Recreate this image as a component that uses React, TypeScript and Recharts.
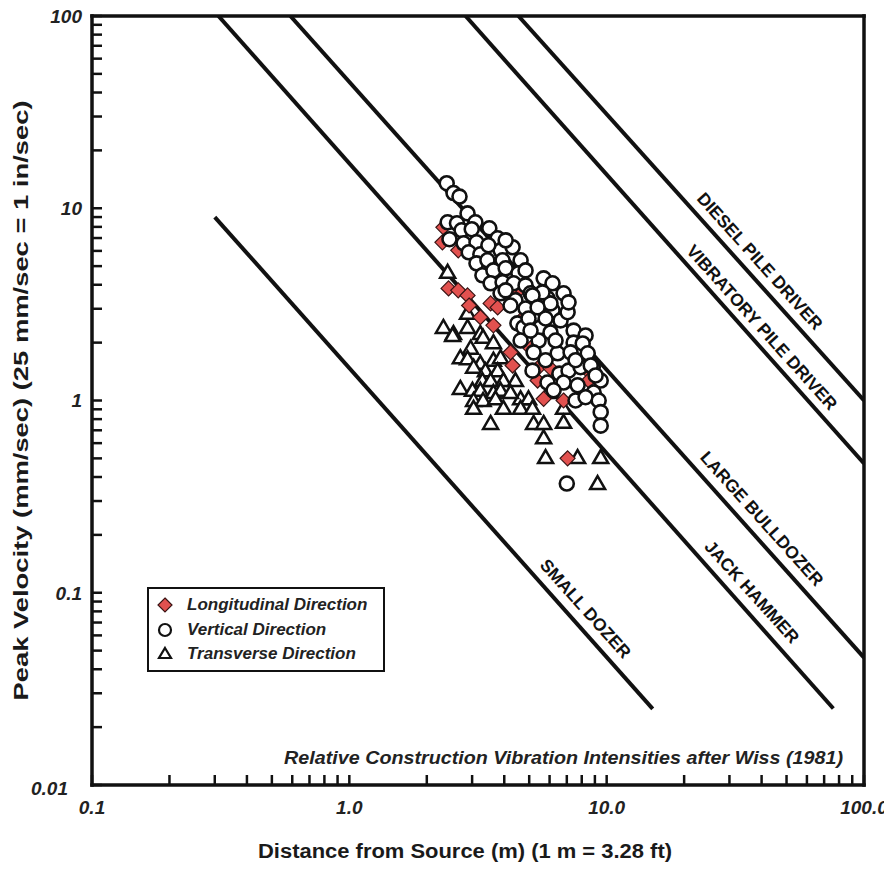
import React from 'react';
import {
  ScatterChart,
  Scatter,
  XAxis,
  YAxis,
  ReferenceLine,
  ReferenceDot,
  Legend,
} from 'recharts';

const FONT = '"Liberation Sans", Arial, Helvetica, sans-serif';
const INK = '#111';

// axis ticks (log scales, minor ticks inward on all four sides)
const X_TICKS = [
  0.1, 0.2, 0.3, 0.4, 0.5, 0.6, 0.7, 0.8, 0.9,
  1, 2, 3, 4, 5, 6, 7, 8, 9,
  10, 20, 30, 40, 50, 60, 70, 80, 90, 100,
];
const X_MAJOR = [0.1, 1, 10, 100];
const X_LABELS = ['0.1', '1.0', '10.0', '100.0'];

const Y_TICKS = [
  0.01, 0.02, 0.03, 0.04, 0.05, 0.06, 0.07, 0.08, 0.09,
  0.1, 0.2, 0.3, 0.4, 0.5, 0.6, 0.7, 0.8, 0.9,
  1, 2, 3, 4, 5, 6, 7, 8, 9,
  10, 20, 30, 40, 50, 60, 70, 80, 90, 100,
];
const Y_MAJOR = [0.01, 0.1, 1, 10, 100];
const Y_LABELS = ['0.01', '0.1', '1', '10', '100'];

// source lines after Wiss (1981): [distance m, peak velocity]
const SOURCE_NAMES = ['DIESEL PILE DRIVER', 'VIBRATORY PILE DRIVER', 'LARGE BULLDOZER', 'JACK HAMMER', 'SMALL DOZER'];
const SOURCE_START = [[4.54, 100], [2.83, 100], [0.59, 100], [0.31, 100], [0.3, 9.0]];
const SOURCE_END = [[100, 1.0], [100, 0.47], [100, 0.046], [76, 0.025], [15.1, 0.0249]];
const SOURCE_LABEL_AT = [[39.4, 5.3], [40.1, 2.4], [40.1, 0.243], [36.7, 0.101], [8.28, 0.0826]];

const CAPTION = 'Relative Construction Vibration Intensities after Wiss (1981)';
const CAPTION_AT = [82.9, 0.0129];

const SERIES_NAMES = ['Longitudinal Direction', 'Vertical Direction', 'Transverse Direction'];

const LONGITUDINAL = [
  [2.32, 7.96], [2.3, 6.65], [2.65, 6.04], [2.43, 3.83], [2.65, 3.74], [2.88, 3.52],
  [2.92, 3.12], [3.23, 2.71], [3.54, 3.2], [3.77, 3.05], [4.23, 3.65], [4.63, 3.83],
  [4.84, 2.77], [3.63, 2.46], [4.23, 1.78], [4.31, 1.52], [5.39, 1.47], [6.05, 1.47],
  [5.39, 1.27], [5.69, 1.02], [6.8, 1.0], [8.51, 1.27], [8.28, 1.47], [7.05, 0.5],
  [5.06, 1.87],
];

const VERTICAL = [
  [2.39, 13.5], [2.54, 12.0], [2.68, 11.5], [2.88, 9.4], [2.41, 8.45], [2.62, 8.35],
  [3.09, 8.45], [2.73, 7.68], [2.99, 7.78], [3.5, 7.87], [2.45, 6.9], [2.78, 6.57],
  [3.12, 6.65], [3.77, 6.98], [2.91, 5.9], [3.23, 5.76], [3.87, 6.04], [4.31, 6.27],
  [3.12, 5.17], [3.44, 5.36], [3.94, 5.36], [4.63, 5.36], [3.29, 4.48], [3.63, 4.75],
  [4.05, 4.87], [4.54, 4.59], [4.84, 4.75], [3.54, 4.07], [3.94, 4.12], [4.35, 4.07],
  [4.84, 3.97], [3.87, 3.61], [4.42, 3.32], [5.06, 3.61], [5.69, 4.32], [4.23, 3.12],
  [4.84, 3.01], [5.39, 3.32], [5.89, 3.4], [5.44, 2.71], [6.16, 2.94], [6.8, 3.61],
  [4.5, 2.52], [5.53, 2.4], [6.62, 2.61], [7.05, 2.88], [7.44, 2.31], [8.28, 2.18],
  [6.16, 4.07], [7.11, 3.24], [6.05, 3.2], [4.75, 2.4], [6.05, 2.26], [5.44, 2.05],
  [7.44, 2.0], [5.2, 1.78], [5.79, 1.62], [6.45, 1.76], [7.24, 1.78], [8.07, 1.98],
  [8.44, 1.76], [5.15, 1.43], [5.89, 1.24], [6.55, 1.38], [7.11, 1.43], [7.92, 1.49],
  [8.83, 1.49], [6.8, 1.24], [7.71, 1.2], [9.48, 1.27], [8.9, 1.1], [7.57, 1.0],
  [8.28, 1.04], [9.31, 1.0], [9.48, 0.87], [9.48, 0.74], [7.0, 0.37], [8.67, 1.52],
  [6.22, 1.13], [5.63, 3.65], [5.15, 3.52], [5.39, 3.05], [4.05, 3.74], [4.97, 2.67],
  [5.79, 2.67], [6.33, 2.05], [4.63, 2.05], [5.06, 2.31], [7.57, 1.62], [9.06, 1.35],
  [3.47, 6.42], [4.05, 6.81],
];

const TRANSVERSE = [
  [2.41, 4.64], [2.32, 2.4], [2.54, 2.23], [2.88, 2.4], [3.23, 2.23], [2.88, 2.84],
  [2.96, 1.87], [3.31, 2.13], [2.52, 2.18], [3.63, 2.0], [2.7, 1.67], [2.88, 1.65],
  [3.23, 1.56], [3.63, 1.62], [3.87, 1.67], [3.04, 1.49], [3.38, 1.43], [3.77, 1.43],
  [3.29, 1.27], [3.54, 1.27], [3.97, 1.27], [4.42, 1.27], [2.7, 1.155], [3.01, 1.13],
  [3.23, 1.13], [3.63, 1.1], [3.87, 1.13], [3.04, 1.0], [3.31, 1.0], [3.7, 1.02],
  [4.63, 1.02], [4.97, 1.02], [3.04, 0.91], [3.97, 0.91], [4.63, 0.91], [5.15, 0.91],
  [6.8, 0.91], [3.54, 0.76], [5.2, 0.76], [5.69, 0.76], [6.8, 0.77], [5.69, 0.64],
  [5.79, 0.505], [7.71, 0.505], [9.48, 0.505], [9.22, 0.37], [4.23, 1.1], [5.93, 1.1],
];

const toPoints = (rows: number[][]) => rows.map(([d, v]) => ({ d, v }));

const DiamondShape = (props: any) => {
  const { cx, cy } = props;
  const h = 7.5;
  return (
    <polygon
      points={`${cx},${cy - h} ${cx + h},${cy} ${cx},${cy + h} ${cx - h},${cy}`}
      fill="#e2514f"
      stroke="#3a1414"
      strokeWidth={1.2}
    />
  );
};

const CircleShape = (props: any) => (
  <circle cx={props.cx} cy={props.cy} r={7} fill="#fff" stroke={INK} strokeWidth={2.6} />
);

const TriangleShape = (props: any) => {
  const { cx, cy } = props;
  return (
    <polygon
      points={`${cx},${cy - 7.5} ${cx + 7.5},${cy + 5.5} ${cx - 7.5},${cy + 5.5}`}
      fill="#fff"
      stroke={INK}
      strokeWidth={2.5}
    />
  );
};

const tickFont = { fontFamily: FONT, fontSize: 19, fontWeight: 'bold', fontStyle: 'italic', fill: '#222' } as const;

const XTick = (props: any) => {
  const { x, y, payload } = props;
  const i = X_MAJOR.indexOf(payload.value);
  if (i < 0) return null;
  return (
    <text x={x} y={y} textAnchor="middle" {...tickFont}>
      {X_LABELS[i]}
    </text>
  );
};

const YTick = (props: any) => {
  const { x, y, payload } = props;
  const i = Y_MAJOR.indexOf(payload.value);
  if (i < 0) return null;
  return (
    <text x={i === 0 ? x - 14 : x} y={i === 0 ? y + 3 : y} dy="0.36em" textAnchor="end" {...tickFont}>
      {Y_LABELS[i]}
    </text>
  );
};

const XTitle = (props: any) => {
  const { viewBox } = props;
  const cx = viewBox.x + viewBox.width / 2 - 13;
  return (
    <text x={cx} y={858} textAnchor="middle" fontFamily={FONT} fontSize={20} fontWeight="bold" fill="#1a1a1a"
      textLength={414} lengthAdjust="spacingAndGlyphs">
      Distance from Source (m) (1 m = 3.28 ft)
    </text>
  );
};

const YTitle = (props: any) => {
  const { viewBox } = props;
  const cx = viewBox.x + 20;
  const cy = viewBox.y + viewBox.height / 2;
  return (
    <text x={cx} y={cy} transform={`rotate(-90 ${cx} ${cy})`} textAnchor="middle" fontFamily={FONT} fontSize={20}
      fontWeight="bold" fill="#1a1a1a" textLength={600} lengthAdjust="spacingAndGlyphs">
      Peak Velocity (mm/sec) (25 mm/sec = 1 in/sec)
    </text>
  );
};

const SlopeLabel = (props: any) => {
  const { viewBox, text } = props;
  const cx = viewBox.x + viewBox.width / 2;
  const cy = viewBox.y + viewBox.height / 2;
  return (
    <text x={cx} y={cy} transform={`rotate(48 ${cx} ${cy})`} textAnchor="middle" dominantBaseline="central"
      fontFamily={FONT} fontSize={17.5} fontWeight="bold" fill={INK}>
      {text}
    </text>
  );
};

const CaptionLabel = (props: any) => {
  const { viewBox, text } = props;
  const cx = viewBox.x + viewBox.width / 2;
  const cy = viewBox.y + viewBox.height / 2;
  return (
    <text x={cx} y={cy} textAnchor="end" fontFamily={FONT} fontSize={18.5} fontWeight="bold" fontStyle="italic"
      fill="#222" textLength={559} lengthAdjust="spacingAndGlyphs">
      {text}
    </text>
  );
};

const LEGEND_ICONS = [
  <polygon key="d" points="10,3 17,10 10,17 3,10" fill="#e2514f" stroke="#3a1414" strokeWidth={1.2} />,
  <circle key="c" cx={10} cy={10} r={6} fill="#fff" stroke={INK} strokeWidth={2.2} />,
  <polygon key="t" points="10,4 16,14 4,14" fill="#fff" stroke={INK} strokeWidth={2.2} />,
];

const LegendBox = () => (
  <div
    style={{
      position: 'relative',
      width: 238,
      height: 85,
      boxSizing: 'border-box',
      border: `2.5px solid ${INK}`,
      background: '#fff',
    }}
  >
    {SERIES_NAMES.map((name, i) => (
      <div
        key={name}
        style={{ position: 'absolute', left: 6, top: 6 + 24.5 * i, height: 20, display: 'flex', alignItems: 'center' }}
      >
        <svg width={20} height={20}>{LEGEND_ICONS[i]}</svg>
        <span
          style={{
            marginLeft: 12,
            fontFamily: FONT,
            fontSize: 17,
            fontWeight: 'bold',
            fontStyle: 'italic',
            color: '#222',
            whiteSpace: 'nowrap',
          }}
        >
          {name}
        </span>
      </div>
    ))}
  </div>
);

const axisLine = { stroke: INK, strokeWidth: 3.5, strokeLinecap: 'square' as const };
const tickLine = { stroke: INK, strokeWidth: 2.5 };

export default function App() {
  // cancel the body margin so the chart can use the full page
  return (
    <div style={{ margin: '-8px 0 0 -8px', width: 892, height: 872 }}>
      <ScatterChart width={892} height={872} margin={{ top: 15, right: 27, bottom: 47, left: 8 }}>
        <XAxis
          dataKey="d"
          type="number"
          scale="log"
          domain={[0.1, 100]}
          allowDataOverflow
          ticks={X_TICKS}
          interval={0}
          tickSize={-10}
          tickMargin={39}
          tick={<XTick />}
          tickLine={tickLine}
          axisLine={axisLine}
          height={40}
          label={<XTitle />}
        />
        <XAxis
          xAxisId="top"
          orientation="top"
          type="number"
          scale="log"
          domain={[0.1, 100]}
          allowDataOverflow
          ticks={X_TICKS}
          interval={0}
          tickSize={-10}
          tick={false}
          tickLine={tickLine}
          axisLine={axisLine}
          height={1}
        />
        <YAxis
          dataKey="v"
          type="number"
          scale="log"
          domain={[0.01, 100]}
          allowDataOverflow
          ticks={Y_TICKS}
          interval={0}
          tickSize={-10}
          tickMargin={20}
          tick={<YTick />}
          tickLine={tickLine}
          axisLine={axisLine}
          width={84}
          label={<YTitle />}
        />
        <YAxis
          yAxisId="right"
          orientation="right"
          type="number"
          scale="log"
          domain={[0.01, 100]}
          allowDataOverflow
          ticks={Y_TICKS}
          interval={0}
          tickSize={-10}
          tick={false}
          tickLine={tickLine}
          axisLine={axisLine}
          width={1}
        />

        {SOURCE_NAMES.map((name, i) => (
          <ReferenceLine
            key={name}
            segment={[
              { x: SOURCE_START[i][0], y: SOURCE_START[i][1] },
              { x: SOURCE_END[i][0], y: SOURCE_END[i][1] },
            ]}
            stroke={INK}
            strokeWidth={4}
            ifOverflow="hidden"
          />
        ))}
        {SOURCE_NAMES.map((name, i) => (
          <ReferenceDot
            key={`lbl-${name}`}
            x={SOURCE_LABEL_AT[i][0]}
            y={SOURCE_LABEL_AT[i][1]}
            r={1}
            fill="none"
            stroke="none"
            label={<SlopeLabel text={name} />}
          />
        ))}
        <ReferenceDot
          x={CAPTION_AT[0]}
          y={CAPTION_AT[1]}
          r={1}
          fill="none"
          stroke="none"
          label={<CaptionLabel text={CAPTION} />}
        />

        <Scatter name={SERIES_NAMES[2]} data={toPoints(TRANSVERSE)} shape={<TriangleShape />} isAnimationActive={false} />
        <Scatter name={SERIES_NAMES[0]} data={toPoints(LONGITUDINAL)} shape={<DiamondShape />} isAnimationActive={false} />
        <Scatter name={SERIES_NAMES[1]} data={toPoints(VERTICAL)} shape={<CircleShape />} isAnimationActive={false} />

        <Legend
          layout="vertical"
          align="center"
          verticalAlign="middle"
          content={<LegendBox />}
          wrapperStyle={{ left: 147, top: 587, width: 238, height: 85, margin: 0 }}
        />
      </ScatterChart>
    </div>
  );
}
